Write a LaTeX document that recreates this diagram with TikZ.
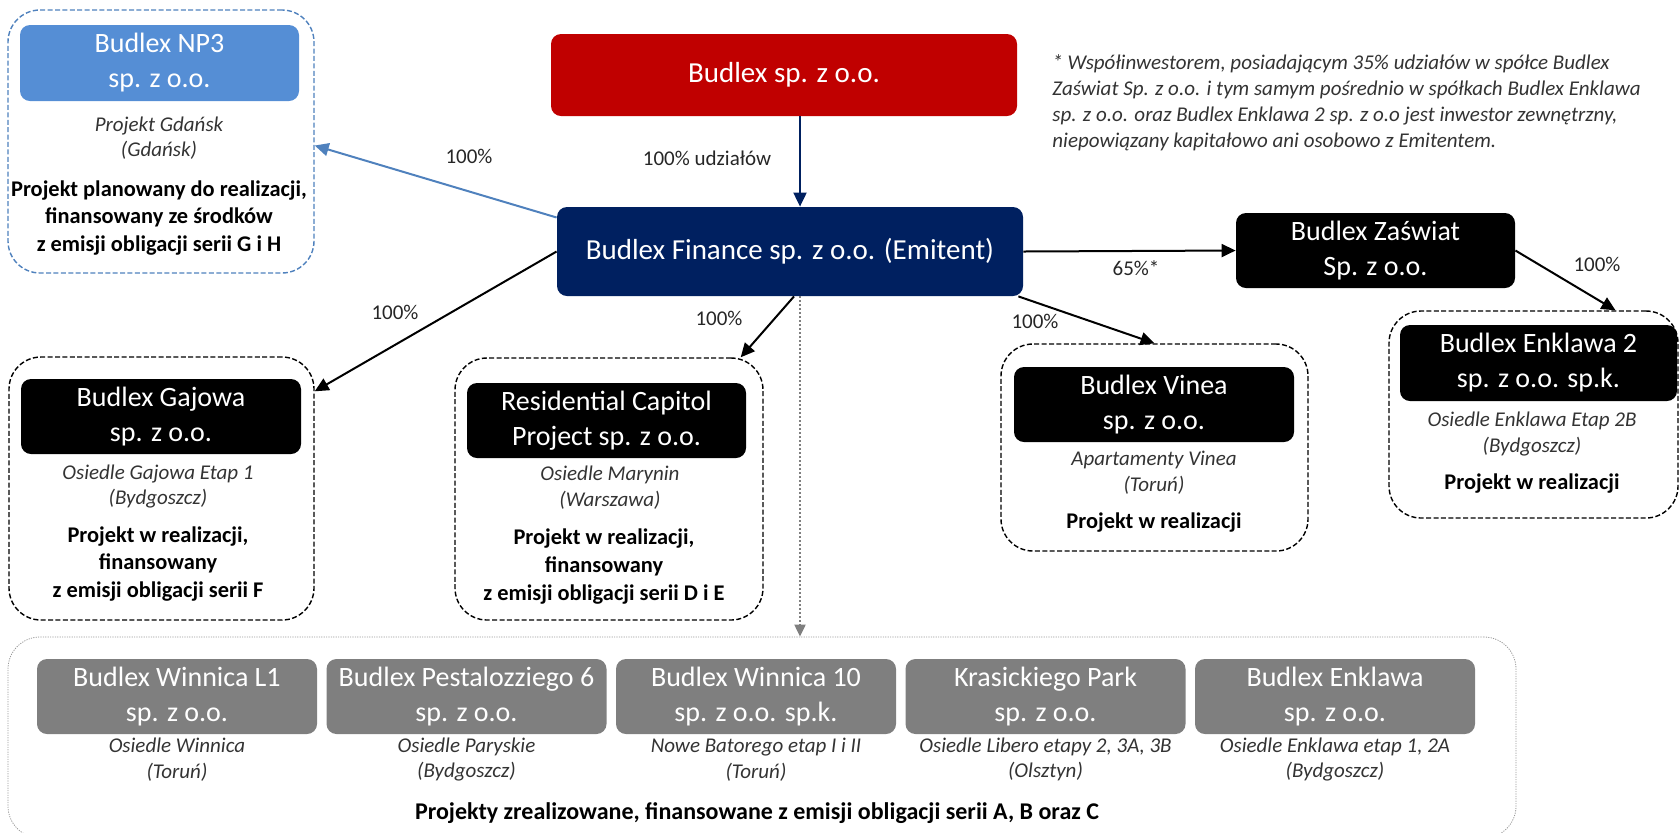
\documentclass[tikz,border=0pt]{standalone}
\usepackage{fontspec}
\setmainfont{Carlito}
\usepackage{tikz}
\usepackage{xcolor}
\usetikzlibrary{arrows.meta, positioning}
\definecolor{budlexred}{RGB}{192, 0, 0}
\definecolor{financenavy}{RGB}{0, 32, 96}
\definecolor{plannedblue}{RGB}{85, 142, 213}
\definecolor{linkblue}{RGB}{79, 129, 189}
\definecolor{donegray}{RGB}{127, 127, 127}
\newcommand{\bigfirmfont}{\fontsize{14.5}{17.5}\selectfont}
\newcommand{\firmfont}{\fontsize{14}{17.5}\selectfont}
\newcommand{\locfont}{\fontsize{10.5}{12.8}\selectfont\itshape}
\newcommand{\infofont}{\fontsize{11.2}{13.8}\selectfont\bfseries}
\newcommand{\pctfont}{\fontsize{10.5}{12.5}\selectfont}

\begin{document}
\begin{tikzpicture}[x=0.5pt, y=-0.5pt,
  firm/.style={rounded corners=5pt, text=white, align=center, font=\firmfont,
    minimum width=140pt, minimum height=37.5pt, inner sep=2pt},
  grpbox/.style={draw, line width=0.7pt, dash pattern=on 2.5pt off 1.2pt,
    rounded corners=16pt},
  loc/.style={align=center, font=\locfont, text=black!80, inner sep=1pt},
  info/.style={align=center, font=\infofont, inner sep=1pt},
  pct/.style={font=\pctfont, text=black!85, inner sep=1pt},
  own/.style={-{Triangle[length=7pt, width=6.5pt]}, line width=1pt},
  ghost/.style={-{Triangle[length=6pt, width=5.5pt]}, donegray, line width=1pt,
    dash pattern=on 1pt off 1pt}]
\useasboundingbox (0,0) rectangle (1680,832);

% parent and issuer
\node[firm, fill=budlexred, font=\bigfirmfont, minimum width=233pt, minimum height=41pt] (budlex) at (784,75) {Budlex sp. z o.o.};
\node[firm, fill=financenavy, font=\bigfirmfont, minimum width=233pt, minimum height=44.5pt] (finance) at (790,251.5) {Budlex Finance sp. z o.o. (Emitent)};
\node[firm, fill=black, minimum width=139.5pt] (zaswiat) at (1375.5,250.5) {Budlex Zaświat\\Sp. z o.o.};

\node[loc, anchor=west, align=left, font=\fontsize{10.5}{13}\selectfont\itshape] (footnote) at (1050,103) {* Współinwestorem, posiadającym 35\% udziałów w spółce Budlex\\Zaświat Sp. z o.o. i tym samym pośrednio w spółkach Budlex Enklawa\\sp. z o.o. oraz Budlex Enklawa 2 sp. z o.o jest inwestor zewnętrzny,\\niepowiązany kapitałowo ani osobowo z Emitentem.};

% planned project
\node[grpbox, draw=linkblue, minimum width=153pt, minimum height=131.5pt] (np3box) at (161,141.5) {};
\node[firm, fill=plannedblue, minimum width=139.5pt, minimum height=38pt] (np3) at (159.5,63) {Budlex NP3\\sp. z o.o.};
\node[loc] (np3loc) at (159,138) {Projekt Gdańsk\\(Gdańsk)};
\node[info] (np3info) at (159,218) {Projekt planowany do realizacji,\\finansowany ze środków\\z emisji obligacji serii G i H};

% projects in progress
\node[grpbox, minimum width=152.5pt, minimum height=131.5pt] (gajbox) at (161.5,488.5) {};
\node[firm, fill=black] (gajowa) at (161,416.5) {Budlex Gajowa\\sp. z o.o.};
\node[loc] (gajloc) at (158,486.5) {Osiedle Gajowa Etap 1\\(Bydgoszcz)};
\node[info] (gajinfo) at (158,564) {Projekt w realizacji,\\finansowany\\z emisji obligacji serii F};

\node[grpbox, minimum width=154pt, minimum height=131pt] (resbox) at (609,489) {};
\node[firm, fill=black, minimum width=139.5pt] (capitol) at (606.5,420.5) {Residential Capitol\\Project sp. z o.o.};
\node[loc] (resloc) at (610,487.5) {Osiedle Marynin\\(Warszawa)};
\node[info] (resinfo) at (604,566.5) {Projekt w realizacji,\\finansowany\\z emisji obligacji serii D i E};

\node[grpbox, minimum width=153.5pt, minimum height=103.5pt] (vinbox) at (1154.5,447.5) {};
\node[firm, fill=black] (vinea) at (1154,404.5) {Budlex Vinea\\sp. z o.o.};
\node[loc] (vinloc) at (1154,472.5) {Apartamenty Vinea\\(Toruń)};
\node[info] (vininfo) at (1154,523) {Projekt w realizacji};

\node[grpbox, minimum width=144.5pt, minimum height=103.5pt] (enkbox) at (1533.5,414.5) {};
\node[firm, fill=black, minimum width=138.5pt, minimum height=38pt] (enklawa2) at (1538.5,363) {Budlex Enklawa 2\\sp. z o.o. sp.k.};
\node[loc] (enkloc) at (1532,434) {Osiedle Enklawa Etap 2B\\(Bydgoszcz)};
\node[info] (enkinfo) at (1532,484) {Projekt w realizacji};

% completed projects
\node[draw=black!40, line width=0.4pt, dash pattern=on 0.6pt off 0.6pt, rounded corners=16pt,
  minimum width=754pt, minimum height=100.5pt] (donebox) at (762,737.5) {};
\node[firm, fill=donegray] (winnica) at (177,696.5) {Budlex Winnica L1\\sp. z o.o.};
\node[firm, fill=donegray] (pestal) at (466.5,696.5) {Budlex Pestalozziego 6\\sp. z o.o.};
\node[firm, fill=donegray] (winnica10) at (756,696.5) {Budlex Winnica 10\\sp. z o.o. sp.k.};
\node[firm, fill=donegray] (krasic) at (1045.5,696.5) {Krasickiego Park\\sp. z o.o.};
\node[firm, fill=donegray] (enklawa) at (1335,696.5) {Budlex Enklawa\\sp. z o.o.};
\node[loc] (winloc) at (177,759.5) {Osiedle Winnica\\(Toruń)};
\node[loc] (pestloc) at (466.5,759.5) {Osiedle Paryskie\\(Bydgoszcz)};
\node[loc] (win10loc) at (756,759.5) {Nowe Batorego etap I i II\\(Toruń)};
\node[loc] (krasloc) at (1045.5,759.5) {Osiedle Libero etapy 2, 3A, 3B\\(Olsztyn)};
\node[loc] (enkaloc) at (1335,759.5) {Osiedle Enklawa etap 1, 2A\\(Bydgoszcz)};
\node[info, font=\fontsize{12}{14}\selectfont\bfseries] (doneinfo) at (757,813) {Projekty zrealizowane, finansowane z emisji obligacji serii A, B oraz C};

% ownership links
\draw[own, financenavy] ([xshift=8pt]budlex.south) -- ([xshift=5pt]finance.north);
\draw[own, linkblue] ([yshift=17pt]finance.west) -- ([yshift=-2pt]np3box.east);
\draw[own] (finance.west) -- ([yshift=-17.5pt]gajbox.north east);
\draw[own] ([xshift=2pt]finance.south) -- ([xshift=-11.5pt]resbox.north east);
\draw[own] ([xshift=-2.5pt]finance.south east) -- (vinbox.north);
\draw[own] (finance.east) -- (zaswiat.west);
\draw[own] (zaswiat.east) -- ([xshift=41pt]enkbox.north);
\coordinate (drop) at ([xshift=5pt]finance.south);
\draw[ghost] (drop) -- (drop |- donebox.north);

\node[pct] (pctparent) at (707,158) {100\% udziałów};
\node[pct] (pctnp3) at (469,156) {100\%};
\node[pct] (pctgaj) at (395,312) {100\%};
\node[pct] (pctres) at (719,318) {100\%};
\node[pct] (pctvin) at (1035,321) {100\%};
\node[pct] (pctzas) at (1136,268) {65\%*};
\node[pct] (pctenk) at (1597,264) {100\%};

\end{tikzpicture}
\end{document}
